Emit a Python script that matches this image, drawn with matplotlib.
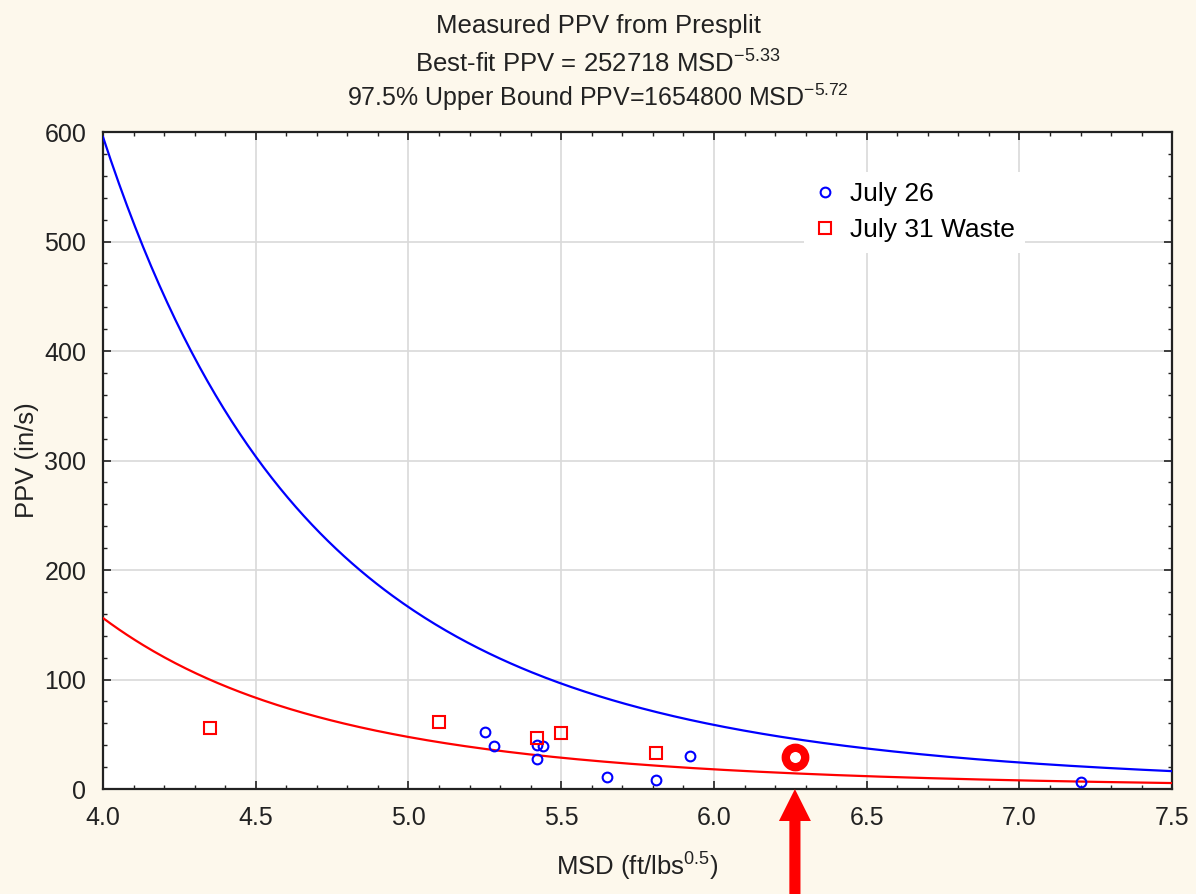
import numpy as np
import matplotlib.pyplot as plt
from matplotlib.ticker import MultipleLocator, FormatStrFormatter

plt.rcParams['font.family'] = ['Liberation Sans', 'DejaVu Sans']
plt.rcParams['mathtext.fontset'] = 'custom'
plt.rcParams['mathtext.rm'] = 'Liberation Sans'
plt.rcParams['mathtext.it'] = 'Liberation Sans:italic'

# fit coefficients: PPV = k * MSD^b
best_k, best_b = 252718, -5.33
upper_k, upper_b = 1654800, -5.72

# measured events
july26_msd = [5.25, 5.28, 5.42, 5.44, 5.42, 5.65, 5.81, 5.92, 7.20]
july26_ppv = [52, 39, 40, 39, 27, 11, 8, 30, 6]
july31_msd = [4.35, 5.10, 5.42, 5.50, 5.81]
july31_ppv = [56, 61, 47, 51, 33]

# flagged reading
flag_msd = 6.265
flag_ppv = 29

bg = '#fdf8ec'
fig = plt.figure(figsize=(11.96, 8.94), dpi=100, facecolor=bg)
ax = fig.add_axes([0.0861, 0.1174, 0.894, 0.7349])
ax.set_facecolor('white')

msd = np.linspace(4.0, 7.5, 400)
ax.plot(msd, upper_k * msd ** upper_b, color='#0000ff', lw=1.6, zorder=3)
ax.plot(msd, best_k * msd ** best_b, color='#ff0000', lw=1.6, zorder=3)

h26, = ax.plot(july26_msd, july26_ppv, 'o', ls='none', ms=7, mfc='none',
               mec='#0000ff', mew=1.5, label='July 26', zorder=4)
h31, = ax.plot(july31_msd, july31_ppv, 's', ls='none', ms=8, mfc='none',
               mec='#ff0000', mew=1.5, label='July 31 Waste', zorder=4)

ax.plot([flag_msd], [flag_ppv], 'o', ms=14, mfc='white', mec='#ff0000',
        mew=6, zorder=5, clip_on=False)
ax.annotate('', xy=(flag_msd, 0), xycoords='data',
            xytext=(flag_msd, 0), textcoords=('data', 'figure fraction'),
            arrowprops=dict(width=8, headwidth=23, headlength=23,
                            facecolor='#ff0000', edgecolor='none'),
            annotation_clip=False, zorder=6)

ax.set_xlim(4.0, 7.5)
ax.set_ylim(0, 600)
ax.xaxis.set_major_locator(MultipleLocator(0.5))
ax.xaxis.set_minor_locator(MultipleLocator(0.1))
ax.xaxis.set_major_formatter(FormatStrFormatter('%.1f'))
ax.yaxis.set_major_locator(MultipleLocator(100))
ax.yaxis.set_minor_locator(MultipleLocator(20))
ax.tick_params(which='both', direction='in', top=True, right=True,
               colors='#222222', labelsize=18)
ax.tick_params(which='major', length=6, width=1.2)
ax.tick_params(which='minor', length=3, width=1)
ax.tick_params(axis='x', pad=12)
ax.tick_params(axis='y', pad=12)
ax.grid(True, which='major', color='#d9d9d9', lw=1.2, zorder=0)
ax.set_axisbelow(True)
for s in ax.spines.values():
    s.set_linewidth(1.6)
    s.set_color('#222222')

ax.set_xlabel('MSD (ft/lbs$^{0.5}$)', fontsize=18.5, labelpad=15, color='#222222')
ax.set_ylabel('PPV (in/s)', fontsize=18.5, labelpad=4, color='#222222')

leg = ax.legend(handles=[h26, h31], loc='upper left', bbox_to_anchor=(0.643, 0.96),
                fontsize=19, frameon=True, fancybox=False, facecolor='white',
                edgecolor='none', framealpha=1, handlelength=0.8,
                handletextpad=0.55, borderpad=0.4, labelspacing=0.45)

fig.text(0.5, 0.963, 'Measured PPV from Presplit', ha='center', va='baseline',
         fontsize=18.5, color='#222222')
fig.text(0.5, 0.919, 'Best-fit PPV = 252718 MSD$^{-5.33}$', ha='center',
         va='baseline', fontsize=18.5, color='#222222')
fig.text(0.5, 0.881, '97.5% Upper Bound PPV=1654800 MSD$^{-5.72}$', ha='center',
         va='baseline', fontsize=18, color='#222222')

fig.savefig('out.png', dpi=100, facecolor=bg)
